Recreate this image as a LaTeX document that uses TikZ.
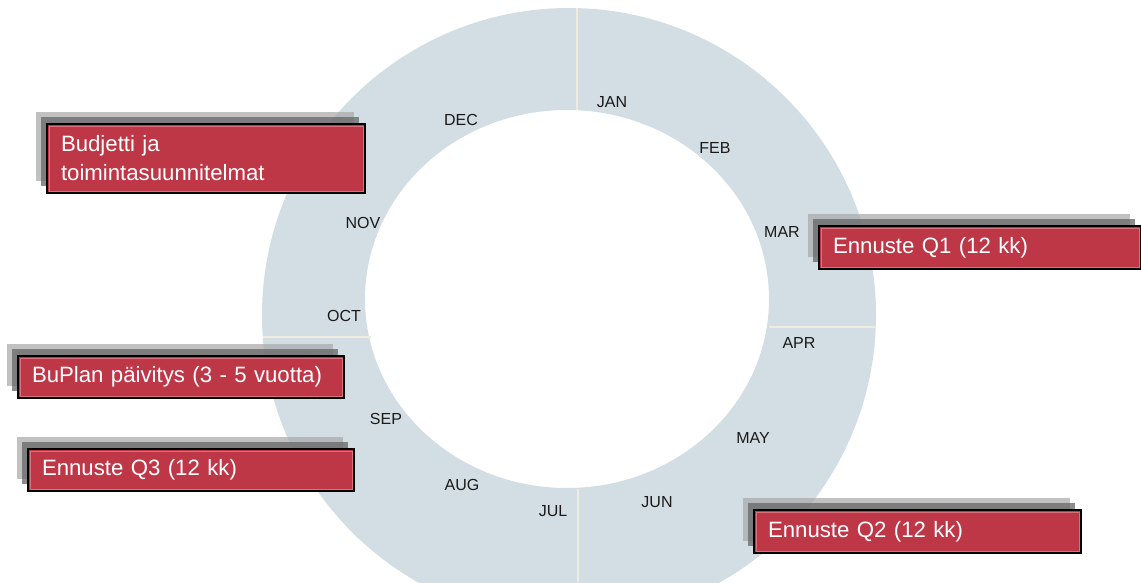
\documentclass[tikz,border=0pt]{standalone}
\usepackage{fontspec}
\setmainfont{Liberation Sans}
\definecolor{ringblue}{HTML}{D3DEE4}
\definecolor{divcol}{HTML}{F0ECDD}
\definecolor{boxred}{HTML}{BE3747}
\definecolor{boxinner}{HTML}{D9707C}
\definecolor{monthtxt}{HTML}{1A1A1A}
\tikzset{
  ringfill/.style={fill=ringblue, even odd rule},
  divline/.style={draw=divcol, line width=1.8pt},
  monthlbl/.style={font=\fontsize{16}{18}\selectfont, text=monthtxt, inner sep=0pt},
  shadowA/.style={fill=gray!65, fill opacity=0.75, draw=none},
  shadowB/.style={fill=black!60, fill opacity=0.75, draw=none},
  redbox/.style={fill=boxred, draw=black, line width=2pt, text=white,
    font=\fontsize{22.2}{29}\selectfont, align=left, anchor=north west,
    inner xsep=14pt, inner ysep=0pt},
  innerline/.style={draw=boxinner, line width=0.8pt}
}
\newcommand{\mybox}[7]{% name, x1, y1, x2, y2, text-width, text
  \fill[shadowA] (#2-10,#3-11) rectangle (#4-10,#5-11);
  \fill[shadowB] (#2-5,#3-6) rectangle (#4-5,#5-6);
  \node[redbox, text width=#6pt, minimum width=#4pt-#2pt, minimum height=#5pt-#3pt] (#1) at (#2,#3) {#7};
  \draw[innerline] ([xshift=3pt,yshift=-3pt]#1.north west) rectangle ([xshift=-3pt,yshift=3pt]#1.south east);
}
\begin{document}
\begin{tikzpicture}[x=1pt,y=-1pt]
\useasboundingbox (0,0) rectangle (1141,582);
\begin{scope}
\clip (0,0) rectangle (1141,582);
\fill[ringfill] (569,315) circle[radius=307] (567,299) ellipse[x radius=202, y radius=189];
\coordinate (t1) at (577,8);  \coordinate (t2) at (577,110);
\coordinate (b1) at (578,489); \coordinate (b2) at (578,582);
\coordinate (l1) at (263,337); \coordinate (l2) at (371,337);
\coordinate (r1) at (769,327); \coordinate (r2) at (876,327);
\draw[divline] (t1) -- (t2);
\draw[divline] (b1) -- (b2);
\draw[divline] (l1) -- (l2);
\draw[divline] (r1) -- (r2);
\end{scope}
\node[monthlbl] (jan) at (612,102) {JAN};
\node[monthlbl] (feb) at (715,148) {FEB};
\node[monthlbl] (mar) at (782,232) {MAR};
\node[monthlbl] (apr) at (799,343) {APR};
\node[monthlbl] (may) at (753,438) {MAY};
\node[monthlbl] (jun) at (657,502) {JUN};
\node[monthlbl] (jul) at (553,511) {JUL};
\node[monthlbl] (aug) at (462,485) {AUG};
\node[monthlbl] (sep) at (386,419) {SEP};
\node[monthlbl] (oct) at (344,316) {OCT};
\node[monthlbl] (nov) at (363,223) {NOV};
\node[monthlbl] (dec) at (461,120) {DEC};
\mybox{budjetti}{46}{123}{364}{192}{290}{Budjetti ja\\toimintasuunnitelmat}
\mybox{q1}{818}{225}{1140}{268}{294}{Ennuste Q1 (12 kk)}
\mybox{buplan}{17}{355}{343}{397}{298}{BuPlan päivitys (3 - 5 vuotta)}
\mybox{q3}{27}{448}{353}{490}{298}{Ennuste Q3 (12 kk)}
\mybox{q2}{753}{509}{1080}{552}{299}{Ennuste Q2 (12 kk)}
\end{tikzpicture}
\end{document}
